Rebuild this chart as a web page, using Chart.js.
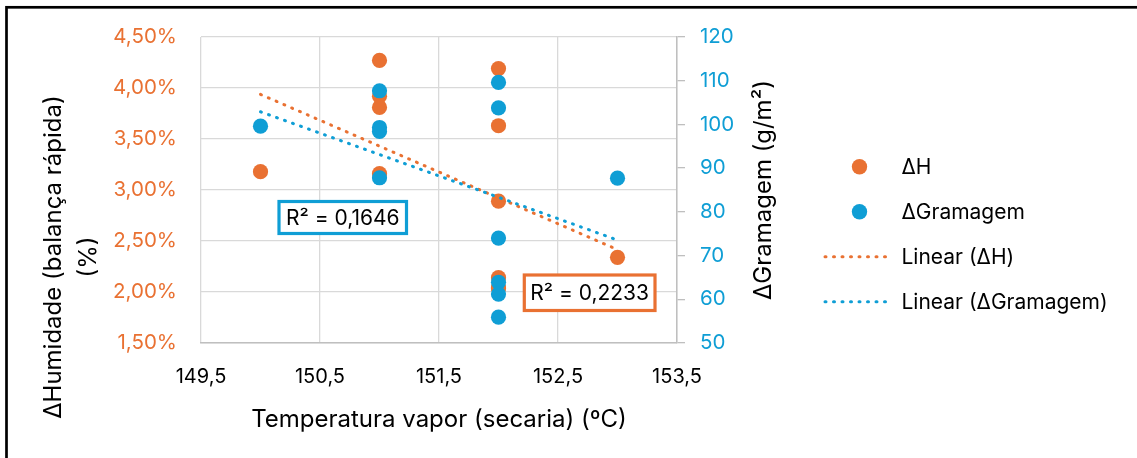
<!DOCTYPE html>
<html><head><meta charset="utf-8">
<script src="https://cdn.jsdelivr.net/npm/chart.js@4.4.0/dist/chart.umd.min.js"></script>
<style>html,body{margin:0;padding:0;background:#fff;overflow:hidden}</style>
</head><body>
<canvas id="c" width="1137" height="458"></canvas>
<script>
// ---- data ----
const temperatureC   = [150, 151, 151, 151, 151, 152, 152, 152, 152, 152, 152, 153];
const deltaHPct      = [3.18, 4.27, 3.92, 3.81, 3.16, 4.19, 3.63, 2.89, 2.14, 2.04, 2.04, 2.34];
const deltaGramagem  = [99.6, 107.7, 99.3, 98.4, 87.8, 109.6, 103.8, 74.0, 63.9, 61.2, 55.9, 87.7];
const xTickValues    = [149.5, 150.5, 151.5, 152.5, 153.5];
const hTickValues    = [1.5, 2.0, 2.5, 3.0, 3.5, 4.0, 4.5];
const gTickValues    = [50, 60, 70, 80, 90, 100, 110, 120];
const seriesNames    = ['ΔH', 'ΔGramagem', 'Linear (ΔH)', 'Linear (ΔGramagem)'];
const r2TextH        = 'R² = 0,2233';
const r2TextG        = 'R² = 0,1646';
const xTitle         = 'Temperatura vapor (secaria) (ºC)';
const yTitleLines    = ['ΔHumidade (balança rápida)', '(%)'];
const y1Title        = 'ΔGramagem (g/m²)';

const ORANGE = '#E97132', BLUE = '#0F9ED5';
const FONT = 'Inter';

function linearFit(xs, ys) {
  const n = xs.length;
  const mx = xs.reduce((a, b) => a + b, 0) / n;
  const my = ys.reduce((a, b) => a + b, 0) / n;
  let sxy = 0, sxx = 0;
  for (let i = 0; i < n; i++) { sxy += (xs[i] - mx) * (ys[i] - my); sxx += (xs[i] - mx) ** 2; }
  const b = sxy / sxx, a = my - b * mx;
  const x0 = Math.min(...xs), x1 = Math.max(...xs);
  return [{x: x0, y: a + b * x0}, {x: x1, y: a + b * x1}];
}

const pts = (xs, ys) => xs.map((x, i) => ({x, y: ys[i]}));
const comma = (v, d) => v.toFixed(d).replace('.', ',');

const deco = {
  id: 'deco',
  beforeDraw(chart) {
    const ctx = chart.ctx;
    ctx.save();
    ctx.fillStyle = '#fff';
    ctx.fillRect(0, 0, chart.width, chart.height);
    ctx.strokeStyle = '#000';
    ctx.lineWidth = 2.7;
    ctx.strokeRect(6.5, 7.3, 1400, 700);
    ctx.restore();
  },
  afterDraw(chart) {
    const ctx = chart.ctx;
    ctx.save();
    ctx.fillStyle = '#000';
    // axis titles
    ctx.font = `24px ${FONT}`;
    ctx.textAlign = 'center';
    ctx.textBaseline = 'middle';
    ctx.fillText(xTitle, 439, 419.5);
    const rot = (t, x, y) => { ctx.save(); ctx.translate(x, y); ctx.rotate(-Math.PI / 2); ctx.fillText(t, 0, 0); ctx.restore(); };
    rot(yTitleLines[0], 54, 257);
    rot(yTitleLines[1], 88.5, 257);
    rot(y1Title, 764, 190);

    // R² boxes
    const box = (x, y, w, h, col, txt) => {
      ctx.fillStyle = '#fff';
      ctx.fillRect(x, y, w, h);
      ctx.strokeStyle = col; ctx.lineWidth = 3.2;
      ctx.strokeRect(x, y, w, h);
      ctx.fillStyle = '#000';
      ctx.font = `21px ${FONT}`;
      ctx.textAlign = 'center'; ctx.textBaseline = 'middle';
      ctx.fillText(txt, x + w / 2, y + h / 2 + 1);
    };
    box(279, 201.5, 127.5, 32, BLUE, r2TextG);
    box(524.3, 275, 130.7, 35.5, ORANGE, r2TextH);

    // legend
    const ds = chart.data.datasets;
    const rows = [166.7, 211.7, 256.7, 301.7];
    ctx.font = `21px ${FONT}`;
    ctx.textAlign = 'left'; ctx.textBaseline = 'middle';
    ds.forEach((d, i) => {
      const y = rows[i];
      if (i < 2) {
        ctx.fillStyle = d.backgroundColor;
        ctx.beginPath(); ctx.arc(859.5, y, 7.7, 0, Math.PI * 2); ctx.fill();
      } else {
        ctx.strokeStyle = d.borderColor; ctx.lineWidth = 3;
        ctx.setLineDash(d.borderDash); ctx.lineCap = 'round';
        ctx.beginPath(); ctx.moveTo(825, y); ctx.lineTo(893, y); ctx.stroke();
        ctx.setLineDash([]);
      }
      ctx.fillStyle = '#000';
      ctx.fillText(d.label, 901.5, y + 1);
    });
    ctx.restore();
  }
};

new Chart(document.getElementById('c'), {
  type: 'scatter',
  data: {
    datasets: [
      { label: seriesNames[0], data: pts(temperatureC, deltaHPct), yAxisID: 'y',
        backgroundColor: ORANGE, borderWidth: 0, pointRadius: 7.6, order: 4 },
      { label: seriesNames[1], data: pts(temperatureC, deltaGramagem), yAxisID: 'y1',
        backgroundColor: BLUE, borderWidth: 0, pointRadius: 7.6, order: 3 },
      { label: seriesNames[2], type: 'line', data: linearFit(temperatureC, deltaHPct), yAxisID: 'y',
        borderColor: ORANGE, borderWidth: 3, borderDash: [1, 7.5], borderCapStyle: 'round',
        pointRadius: 0, fill: false, order: 2 },
      { label: seriesNames[3], type: 'line', data: linearFit(temperatureC, deltaGramagem), yAxisID: 'y1',
        borderColor: BLUE, borderWidth: 3, borderDash: [1, 7.5], borderCapStyle: 'round',
        pointRadius: 0, fill: false, order: 1 }
    ]
  },
  options: {
    responsive: false, animation: false, devicePixelRatio: 1,
    layout: { padding: { top: 37, left: 0, right: 0, bottom: 0 } },
    plugins: { legend: { display: false }, tooltip: { enabled: false } },
    scales: {
      x: {
        type: 'linear', min: 149.5, max: 153.5,
        afterBuildTicks: s => { s.ticks = xTickValues.map(v => ({value: v})); },
        afterFit: s => { s.height = 115; },
        ticks: { color: '#000', font: { family: FONT, size: 20 }, padding: 22, callback: v => comma(v, 1) },
        grid: { color: '#d9d9d9', lineWidth: 1.3, drawTicks: false },
        border: { color: '#bfbfbf', width: 1.5 }
      },
      y: {
        position: 'left', min: 1.5, max: 4.5,
        afterBuildTicks: s => { s.ticks = hTickValues.map(v => ({value: v})); },
        afterFit: s => { s.width = 201; },
        ticks: { color: ORANGE, font: { family: FONT, size: 20.5 }, padding: 24, callback: v => comma(v, 2) + '%' },
        grid: { color: '#d9d9d9', lineWidth: 1.3, drawTicks: false },
        border: { display: false }
      },
      y1: {
        position: 'right', min: 50, max: 120,
        afterBuildTicks: s => { s.ticks = gTickValues.map(v => ({value: v})); },
        afterFit: s => { s.width = 460; },
        ticks: { color: BLUE, font: { family: FONT, size: 20.5 }, padding: 15, callback: v => String(v) },
        grid: { drawOnChartArea: false, color: '#bfbfbf', lineWidth: 1.3, tickLength: 8 },
        border: { color: '#bfbfbf', width: 1.5 }
      }
    }
  },
  plugins: [deco]
});
</script>
</body></html>
